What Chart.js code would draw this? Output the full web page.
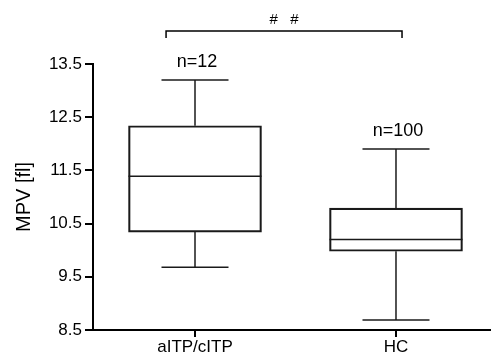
<!DOCTYPE html>
<html><head><meta charset="utf-8">
<script src="https://cdn.jsdelivr.net/npm/chart.js@4/dist/chart.umd.min.js"></script>
<style>html,body{margin:0;padding:0;background:#fff}#wrap{width:492px;height:361px}</style>
</head><body><div id="wrap"><canvas id="c" width="492" height="361"></canvas></div>
<script>
// ---- data ----
const categories = ['aITP/cITP', 'HC'];
const nLabels = ['n=12', 'n=100'];
const whiskerMin = [9.68, 8.69];
const q1 = [10.34, 9.98];
const median = [11.39, 10.20];
const q3 = [12.34, 10.79];
const whiskerMax = [13.20, 11.90];
const yTicks = [8.5, 9.5, 10.5, 11.5, 12.5, 13.5];
const significance = '# #';
const yTitle = 'MPV [fl]';

// ---- style ----
const FONT = '"Liberation Sans", Arial, Helvetica, sans-serif';
const INK = '#1a1a1a';
const BOX_PX = 133, CAP_PX = 67;

const boxPlugin = {
  id: 'boxExtras',
  afterDraw(chart) {
    const ctx = chart.ctx, xs = chart.scales.x, ys = chart.scales.y;
    const seg = (x1, y1, x2, y2) => { ctx.beginPath(); ctx.moveTo(x1, y1); ctx.lineTo(x2, y2); ctx.stroke(); };
    ctx.save();
    // x-axis tick marks at category positions
    ctx.strokeStyle = '#000'; ctx.lineWidth = 2;
    categories.forEach((c, i) => {
      const cx = Math.round(xs.getPixelForValue(i + 1));
      seg(cx, chart.chartArea.bottom, cx, chart.chartArea.bottom + 7);
    });
    ctx.strokeStyle = INK; ctx.lineWidth = 1.5; ctx.lineCap = 'butt';
    categories.forEach((c, i) => {
      const cx = xs.getPixelForValue(i + 1);
      const pMed = ys.getPixelForValue(median[i]);
      seg(cx - BOX_PX / 2, pMed, cx + BOX_PX / 2, pMed);
      const pQ3 = ys.getPixelForValue(q3[i]), pMax = ys.getPixelForValue(whiskerMax[i]);
      const pQ1 = ys.getPixelForValue(q1[i]), pMin = ys.getPixelForValue(whiskerMin[i]);
      seg(cx, pQ3, cx, pMax); seg(cx - CAP_PX / 2, pMax, cx + CAP_PX / 2, pMax);
      seg(cx, pQ1, cx, pMin); seg(cx - CAP_PX / 2, pMin, cx + CAP_PX / 2, pMin);
      ctx.fillStyle = '#000';
      ctx.font = '18px ' + FONT; ctx.textAlign = 'center'; ctx.textBaseline = 'middle';
      ctx.fillText(nLabels[i], cx + 2, pMax - 18);
    });
    // significance bracket
    const bx1 = xs.getPixelForValue(0.856), bx2 = xs.getPixelForValue(2.03);
    const by = ys.getPixelForValue(14.12), byEnd = ys.getPixelForValue(13.99);
    ctx.strokeStyle = '#000'; ctx.lineWidth = 1.5;
    ctx.beginPath(); ctx.moveTo(bx1, byEnd); ctx.lineTo(bx1, by); ctx.lineTo(bx2, by); ctx.lineTo(bx2, byEnd); ctx.stroke();
    ctx.fillStyle = '#000'; ctx.font = '15px ' + FONT; ctx.textAlign = 'center'; ctx.textBaseline = 'middle';
    try { ctx.letterSpacing = '4px'; } catch (e) {}
    ctx.fillText(significance, (bx1 + bx2) / 2 + 2, by - 11);
    ctx.restore();
  }
};

new Chart(document.getElementById('c'), {
  type: 'bar',
  data: {
    datasets: [{
      data: categories.map((c, i) => ({ x: i + 1, y: [q1[i], q3[i]] })),
      backgroundColor: 'rgba(255,255,255,0)',
      borderColor: INK,
      borderWidth: 1.5,
      borderSkipped: false,
      barThickness: BOX_PX
    }]
  },
  options: {
    responsive: false, animation: false, devicePixelRatio: 1,
    layout: { padding: { top: 64, right: 2, left: 0, bottom: 0 } },
    plugins: { legend: { display: false }, tooltip: { enabled: false } },
    scales: {
      x: {
        type: 'linear', min: 0.4925, max: 2.4677, offset: false,
        afterBuildTicks: s => { s.ticks = categories.map((c, i) => ({ value: i + 1 })); },
        afterFit: s => { s.height = 31; },
        ticks: { callback: v => categories[v - 1] || '', color: '#000', font: { family: FONT, size: 17 }, padding: 0, maxRotation: 0, autoSkip: false },
        grid: { offset: false, drawOnChartArea: false, drawTicks: true, tickLength: 7, color: '#000', lineWidth: 2 },
        border: { color: '#000', width: 2 }
      },
      y: {
        min: 8.5, max: 13.5,
        afterBuildTicks: s => { s.ticks = yTicks.map(v => ({ value: v })); },
        afterFit: s => { s.width = 93; },
        ticks: { callback: v => v.toFixed(1), color: '#000', font: { family: FONT, size: 17 }, padding: 3 },
        grid: { drawOnChartArea: false, drawTicks: true, tickLength: 8, color: '#000', lineWidth: 2 },
        border: { color: '#000', width: 2 },
        title: { display: true, text: yTitle, color: '#000', font: { family: FONT, size: 20 }, padding: { top: 12, bottom: 0 } }
      }
    }
  },
  plugins: [boxPlugin]
});
</script></body></html>
